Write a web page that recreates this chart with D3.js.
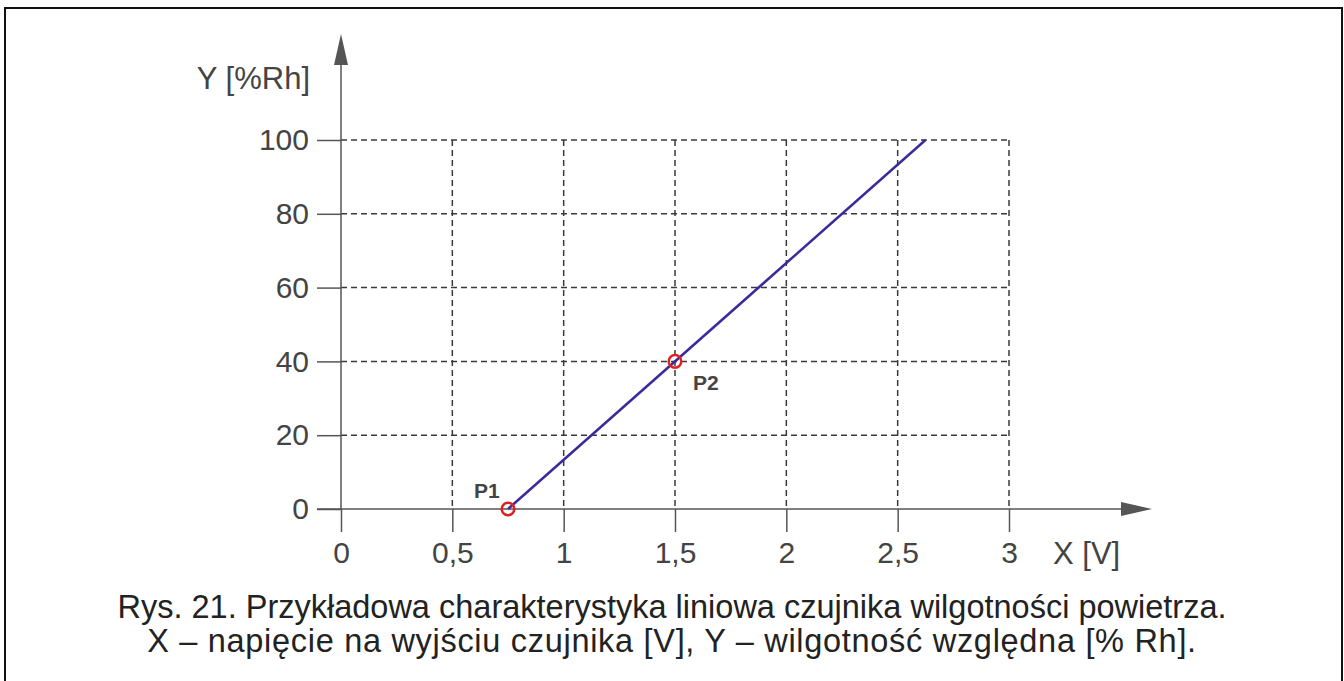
<!DOCTYPE html>
<meta charset="utf-8">
<style>
body { margin: 0; background: #fff; }
svg { font-family: "Liberation Sans", Arial, sans-serif; }
.tick text { fill: #444; font-size: 30px; }
.tick line { stroke: #555; stroke-width: 1.5px; }
.grid { stroke: #3a3a3a; stroke-width: 1.5px; stroke-dasharray: 6,4; fill: none; }
.axisLine { stroke: #555; stroke-width: 1.5px; fill: none; }
</style>
<body>
<script src="https://d3js.org/d3.v7.min.js"></script>
<script>

// data
var xTicks = [0, 0.5, 1, 1.5, 2, 2.5, 3];
var xTickLabels = ["0", "0,5", "1", "1,5", "2", "2,5", "3"];
var yTicks = [0, 20, 40, 60, 80, 100];
var lineX = [0.75, 2.625];
var lineY = [0, 100];
var pointNames = ["P1", "P2"];
var pointX = [0.75, 1.5];
var pointY = [0, 40];
var captionLines = [
  "Rys. 21. Przykładowa charakterystyka liniowa czujnika wilgotności powietrza.",
  "X – napięcie na wyjściu czujnika [V], Y – wilgotność względna [% Rh]."
];

var W = 1344, H = 681;

var svg = d3.select("body").append("svg")
    .attr("width", W)
    .attr("height", H);

// frame
svg.append("rect")
    .attr("x", 5).attr("y", 8)
    .attr("width", 1337).attr("height", 690)
    .attr("fill", "none")
    .attr("stroke", "#111")
    .attr("stroke-width", 2);

// scales
var x = d3.scaleLinear().domain([0, 3]).range([341, 1009]);
var y = d3.scaleLinear().domain([0, 100]).range([509, 140]);

// dashed grid
svg.selectAll(".vgrid")
    .data(xTicks.filter(function(d) { return d > 0; }))
  .enter().append("line")
    .attr("class", "grid")
    .attr("x1", function(d) { return x(d); })
    .attr("x2", function(d) { return x(d); })
    .attr("y1", y(100))
    .attr("y2", y(0));

svg.selectAll(".hgrid")
    .data(yTicks.filter(function(d) { return d > 0; }))
  .enter().append("line")
    .attr("class", "grid")
    .attr("x1", x(0))
    .attr("x2", x(3))
    .attr("y1", function(d) { return y(d); })
    .attr("y2", function(d) { return y(d); });

// axes (ticks + labels)
var yAxis = svg.append("g")
    .attr("transform", "translate(" + x(0) + ",0)")
    .call(d3.axisLeft(y).tickValues(yTicks).tickSize(24).tickPadding(8));
yAxis.select(".domain").remove();

var xAxis = svg.append("g")
    .attr("transform", "translate(0," + y(0) + ")")
    .call(d3.axisBottom(x).tickValues(xTicks).tickSize(23).tickPadding(10)
      .tickFormat(function(d, i) { return xTickLabels[i]; }));
xAxis.select(".domain").remove();
xAxis.selectAll(".tick text").attr("dy", "0.71em");

// axis lines with arrows
svg.append("line").attr("class", "axisLine")
    .attr("x1", x(0) - 24).attr("x2", x(3) + 120)
    .attr("y1", y(0)).attr("y2", y(0));
svg.append("path")
    .attr("fill", "#555")
    .attr("d", "M" + (x(3) + 143) + "," + y(0) + "L" + (x(3) + 112) + "," + (y(0) - 7) +
               "L" + (x(3) + 112) + "," + (y(0) + 7) + "Z");

svg.append("line").attr("class", "axisLine")
    .attr("x1", x(0)).attr("x2", x(0))
    .attr("y1", y(0)).attr("y2", y(100) - 80);
svg.append("path")
    .attr("fill", "#555")
    .attr("d", "M" + x(0) + "," + (y(100) - 106) + "L" + (x(0) - 7) + "," + (y(100) - 75) +
               "L" + (x(0) + 7) + "," + (y(100) - 75) + "Z");

// axis titles
svg.append("text")
    .attr("x", x(0) - 31).attr("y", 89)
    .attr("text-anchor", "end")
    .attr("fill", "#444").style("font-size", "31px")
    .text("Y [%Rh]");

svg.append("text")
    .attr("x", x(3) + 44).attr("y", 564)
    .attr("fill", "#444").style("font-size", "31px")
    .text("X [V]");

// characteristic line
svg.append("path")
    .datum(d3.zip(lineX, lineY))
    .attr("fill", "none")
    .attr("stroke", "#3b2a9c")
    .attr("stroke-width", 2.5)
    .attr("d", d3.line()
      .x(function(d) { return x(d[0]); })
      .y(function(d) { return y(d[1]); }));

// marked points
var pts = d3.zip(pointNames, pointX, pointY);
svg.selectAll(".pt")
    .data(pts)
  .enter().append("circle")
    .attr("cx", function(d) { return x(d[1]); })
    .attr("cy", function(d) { return y(d[2]); })
    .attr("r", 6.3)
    .attr("fill", "none")
    .attr("stroke", "#e02020")
    .attr("stroke-width", 2.5);

var labelOffset = { P1: [-34, -11], P2: [18, 29] };
svg.selectAll(".ptlabel")
    .data(pts)
  .enter().append("text")
    .attr("x", function(d) { return x(d[1]) + labelOffset[d[0]][0]; })
    .attr("y", function(d) { return y(d[2]) + labelOffset[d[0]][1]; })
    .attr("fill", "#444")
    .style("font-size", "21px")
    .style("font-weight", "bold")
    .text(function(d) { return d[0]; });

// caption
svg.selectAll(".caption")
    .data(captionLines)
  .enter().append("text")
    .attr("x", 672)
    .attr("y", function(d, i) { return 618 + i * 34; })
    .attr("text-anchor", "middle")
    .attr("fill", "#222")
    .style("font-size", "32.5px")
    .style("letter-spacing", function(d, i) { return i === 1 ? "0.7px" : "0px"; })
    .text(function(d) { return d; });

</script>
</body>
